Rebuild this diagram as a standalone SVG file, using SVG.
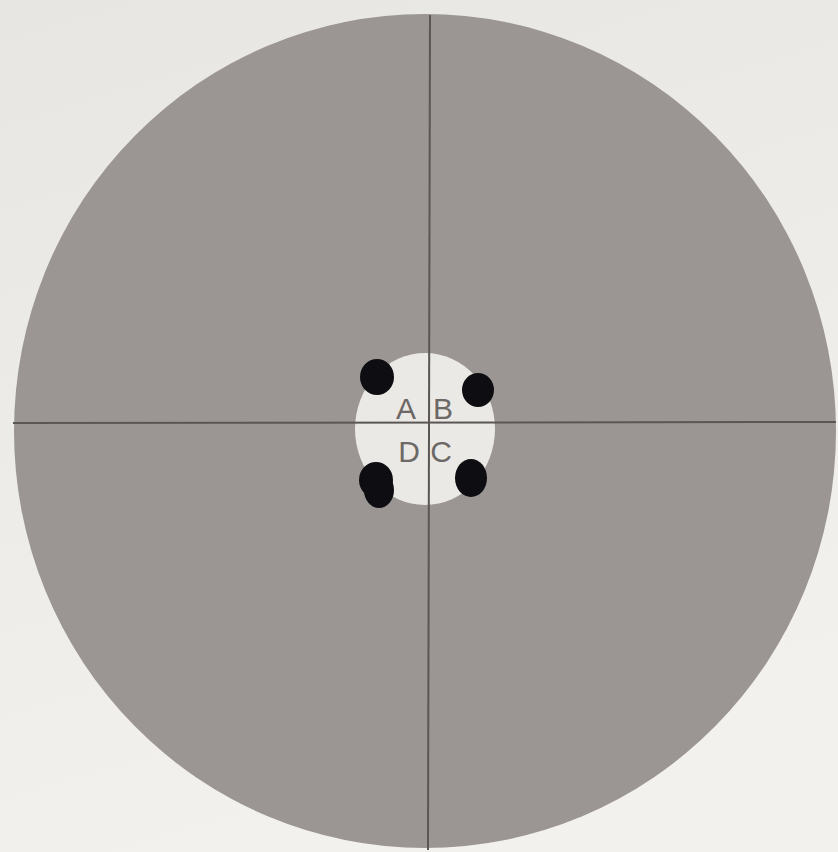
<svg xmlns="http://www.w3.org/2000/svg" width="838" height="852" viewBox="0 0 838 852">
  <defs>
    <linearGradient id="bg" x1="0" y1="0" x2="0.3" y2="1">
      <stop offset="0" stop-color="#e8e6e3"/>
      <stop offset="1" stop-color="#f3f1ee"/>
    </linearGradient>
    <style>
      .hair { stroke: #5a5656; stroke-width: 2; fill: none; }
      .dot { fill: #0e0d12; }
      .lbl { font-family: "Liberation Sans", Arial, sans-serif; font-size: 30px; fill: #6b6866; text-anchor: middle; }
    </style>
  </defs>
  <rect width="838" height="852" fill="url(#bg)"/>
  <g id="disc">
    <ellipse cx="425" cy="431" rx="411" ry="417" fill="#9b9693"/>
  </g>
  <g id="center">
    <ellipse cx="425" cy="429" rx="70" ry="76" fill="#ebe9e5"/>
  </g>
  <g id="crosshair">
    <line class="hair" x1="430" y1="15" x2="428" y2="850"/>
    <line class="hair" x1="13" y1="423" x2="836" y2="422"/>
  </g>
  <g id="labels">
    <text class="lbl" x="406" y="419">A</text>
    <text class="lbl" x="443" y="419">B</text>
    <text class="lbl" x="409" y="462">D</text>
    <text class="lbl" x="441" y="462">C</text>
  </g>
  <g id="dots">
    <ellipse class="dot" cx="377" cy="377" rx="17" ry="18"/>
    <ellipse class="dot" cx="478" cy="390" rx="16" ry="17"/>
    <ellipse class="dot" cx="376" cy="480" rx="17" ry="18"/>
    <ellipse class="dot" cx="379" cy="490" rx="15" ry="18"/>
    <ellipse class="dot" cx="471" cy="478" rx="16" ry="19"/>
  </g>
</svg>
